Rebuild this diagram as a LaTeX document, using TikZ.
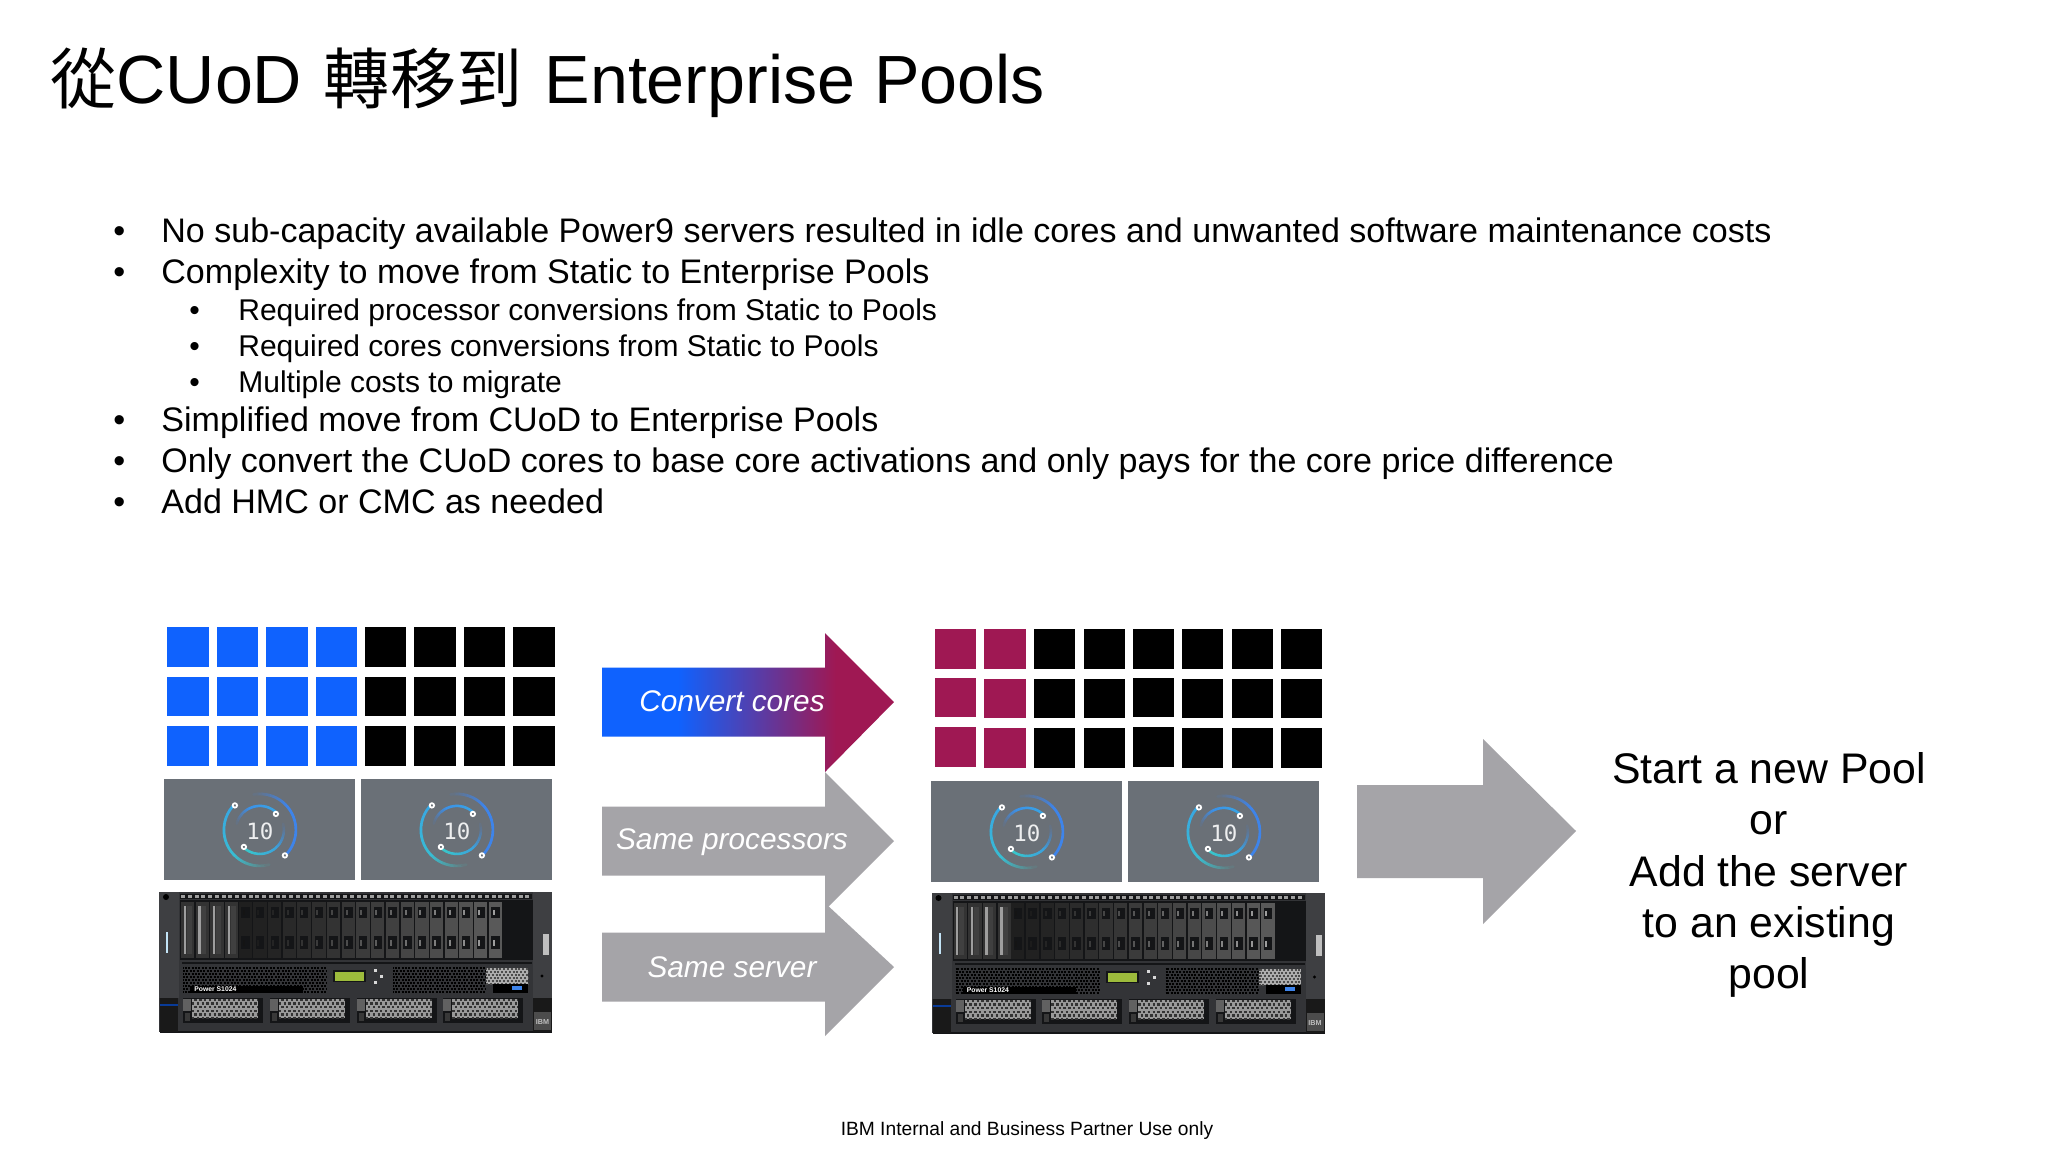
\documentclass[tikz,border=0pt]{standalone}
\usepackage{fontspec}
\setmainfont{Liberation Sans}
\newfontfamily\cjkfont{Noto Sans CJK TC}[Scale=0.97]
\newfontfamily\monof{DejaVu Sans Mono}
\usetikzlibrary{calc}
\definecolor{ibmblue}{HTML}{0F62FE}
\definecolor{magent}{HTML}{9F1853}
\definecolor{arrowgrey}{HTML}{A5A4A8}
\definecolor{panelgrey}{HTML}{6A7077}
\definecolor{ringblue}{HTML}{3E84EA}
\definecolor{ringcyan}{HTML}{38A6E4}
\definecolor{ringteal}{HTML}{38CCC8}
\definecolor{chassis}{HTML}{333437}
\definecolor{earside}{HTML}{3E3F42}
\definecolor{bay}{HTML}{141517}
\definecolor{lcd}{HTML}{9DBB3C}
\pgfdeclarehorizontalshading{convertgrad}{100bp}{color(0bp)=(ibmblue); color(38bp)=(ibmblue); color(65bp)=(magent); color(100bp)=(magent)}
\tikzset{
  x=0.5pt,y=-0.5pt,
  sq/.style={inner sep=0pt,minimum width=20.7pt,minimum height=19.6pt,anchor=north west,fill=#1},
  bul/.style={anchor=base west,inner sep=0pt,font=\fontsize{17.02}{20}\selectfont,text=black},
  subbul/.style={anchor=base west,inner sep=0pt,font=\fontsize{15}{18}\selectfont,text=black},
  arrowlab/.style={inner sep=0pt,text=white,font=\fontsize{14.9}{18}\selectfont\itshape},
  panelbox/.style={anchor=north west,inner sep=0pt,minimum width=95.5pt,minimum height=50.5pt,fill=panelgrey},
}
\newcommand{\coregrid}[4]{%
  \foreach \c [count=\i from 0] in {0,49.3,99,148.6,197.6,247,296.6,346}{%
    \foreach \r in {0,49.5,99}{%
      \pgfmathsetmacro{\xx}{#1+\c}%
      \pgfmathsetmacro{\yy}{#4+\r-((#4==629)*(\r>0)*((\i==0)+(\i==4)))}%
      \ifnum\i<#2\relax
        \node[sq=#3] (q#1x\i y\r) at (\xx,\yy) {};
      \else
        \node[sq=black] (q#1x\i y\r) at (\xx,\yy) {};
      \fi
    }%
  }%
}
% radius, angle start, angle end, colour start, colour end, width
\newcommand{\ringseg}[6]{%
  \foreach \k in {0,...,23}{%
    \pgfmathsetmacro{\aa}{#2+(#3-#2)*\k/24}%
    \pgfmathsetmacro{\ab}{#2+(#3-#2)*(\k+1)/24}%
    \pgfmathtruncatemacro{\mixp}{100*\k/23}%
    \pgfmathtruncatemacro{\fade}{min(100,100*(24-\k)/10)}%
    \colorlet{segtmp}{#5!\mixp!#4}%
    \colorlet{segcol}{segtmp!\fade!panelgrey}%
    \draw[segcol,line width=#6,line cap=round] ({#1*cos(\aa)},{#1*sin(\aa)}) -- ({#1*cos(\ab)},{#1*sin(\ab)});
  }%
}
\newcommand{\tenpanel}[3]{%
  \node[panelbox] (#3) at (#1,#2) {};
  \begin{scope}[shift={(#3.center)}]
    \ringseg{36}{45}{-100}{ringblue}{ringblue}{1.35pt}
    \ringseg{36}{-135}{-285}{ringcyan}{ringteal}{1.35pt}
    \ringseg{24}{-45}{-165}{ringcyan}{ringblue}{1.25pt}
    \ringseg{24}{135}{-15}{ringteal}{ringblue}{1.25pt}
    \foreach \p in {(-25,-24.5),(16,-16),(-16,17),(25,25.5)}
      \draw[white,fill=panelgrey,line width=0.9pt] \p circle (2.2);
    \node[inner sep=0pt,text=white!88!panelgrey,font=\monof\fontsize{11.2}{12}\selectfont] at (0,1) {10};
  \end{scope}
}
% x1,x2,y1,y2,pitch,colour,on,off (pt)
\newcommand{\meshrows}[8]{%
  \pgfmathsetmacro{\halfp}{(#7+#8)/2}%
  \pgfmathtruncatemacro{\rown}{(#4-#3)/#5}%
  \foreach \ri in {0,...,\rown}{%
    \pgfmathsetmacro{\rr}{#3+\ri*#5}%
    \ifodd\ri\relax
      \draw[#6,line width=#7 pt,dash pattern=on #7pt off #8pt] (#1,\rr) -- (#2,\rr);
    \else
      \draw[#6,line width=#7 pt,dash pattern=on #7pt off #8pt,dash phase=\halfp pt] (#1,\rr) -- (#2,\rr);
    \fi
  }%
}
\newcommand{\serverunit}[2]{%
  \begin{scope}[shift={(#1,#2)}]
    \fill[chassis] (159,892) rectangle (552,1032);
    \fill[earside] (159,892) rectangle (179,998);
    \fill[earside] (533,892) rectangle (552,998);
    \fill[bay] (160,1031) rectangle (552,1033);
    % ears
    \fill[black!90!white] (160,998) rectangle (178,1032);
    \fill[black!90!white] (533,998) rectangle (552,1032);
    \fill[ibmblue!60!black] (160,1004) rectangle (178,1006);
    \fill[white!30!black] (534,1012) rectangle (551,1030);
    \node[inner sep=0pt,text=white!75!black,font=\bfseries\fontsize{3.6}{4}\selectfont] at (542.5,1022) {IBM};
    \fill[white!70!ringcyan] (166,932) rectangle (168,953);
    \fill[white!75!black] (543,934) rectangle (549,955);
    \fill[black] (542,976) circle (1.6);
    \fill[black] (166,897) circle (3);
    % top strip
    \fill[bay] (180,894) rectangle (532,899);
    \foreach \k in {0,...,51} \fill[white!62!black] ({181+\k*6.75},895) rectangle ++(4,3);
    % drive bays
    \fill[bay] (180,900) rectangle (533,960);
    \foreach \k in {0,...,3} {
      \fill[black!80!white] ({181+\k*14.7},902) rectangle ++(13.3,56);
      \fill[white!62!black] ({183.5+\k*14.7},906) rectangle ++(2.4,48);
      \fill[white!25!black] ({186.5+\k*14.7},906) rectangle ++(5,48);
    }
    \foreach \k in {0,...,17} {
      \pgfmathsetmacro{\xk}{238.6+\k*14.72}
      \pgfmathtruncatemacro{\sh}{12+\k*1.4}
      \pgfmathtruncatemacro{\li}{8+\k*3.2}
      \fill[white!\sh!black] (\xk,902) rectangle ++(13.3,56);
      \fill[bay] ({\xk+2.5},907) rectangle ++(8.5,11);
      \fill[bay] ({\xk+2.5},936) rectangle ++(8.5,13);
      \fill[white!\li!black] ({\xk+4},910) rectangle ++(2,5);
      \fill[white!\li!black] ({\xk+4},940) rectangle ++(2,6);
    }
    % separator strip
    \fill[bay] (182,962) rectangle (532,964);
    % vents
    \fill[chassis] (182,966) rectangle (530,995);
    \meshrows{183}{327}{968}{992}{3}{black}{1}{0.7}
    \meshrows{393}{486}{968}{992}{3}{black}{1}{0.7}
    \fill[white!68!black] (486,968) rectangle (528,984);
    \meshrows{486}{528}{969}{984}{3}{black!70!white}{1}{0.9}
    % plaque and usb
    \fill[black] (190,986) rectangle (303,993);
    \fill[black] (493,984) rectangle (528,993);
    \fill[ringblue] (512,986) rectangle ++(10,4);
    \node[anchor=west,inner sep=0pt,text=white,font=\bfseries\fontsize{3.4}{4}\selectfont] at (194,989) {Power S1024};
    % lcd and buttons
    \fill[bay] (333,970) rectangle (366,982);
    \fill[lcd] (335,971.5) rectangle (364,981);
    \fill[white!85!black] (374,969) rectangle ++(3,3);
    \fill[white!85!black] (380,975) rectangle ++(3,3);
    \fill[white!85!black] (374,981) rectangle ++(3,3);
    % fans
    \foreach \k in {0,...,3} {
      \pgfmathsetmacro{\fx}{183+\k*86.8}
      \pgfmathsetmacro{\fy}{\fx+80}
      \pgfmathsetmacro{\fm}{\fx+9}
      \pgfmathsetmacro{\fe}{\fx+75}
      \fill[bay] (\fx,998) rectangle (\fy,1023);
      \fill[white!60!black] (\fm,999) rectangle (\fe,1018);
      \meshrows{\fm}{\fe}{1000}{1018}{3.6}{black!80!white}{1.2}{1.2}
      \fill[white!38!black] (\fx,999) rectangle ++(8,12);
      \fill[white!22!black] ({\fx+2},1013) rectangle ++(5,8);
    }
  \end{scope}
}
\newcommand{\slidearrow}[5]{%
  \path[#5] (602,{#3-34.5}) -- (825,{#3-34.5}) -- (825,#2) -- (894,#3) -- (825,#4) -- (825,{#3+34.5}) -- (602,{#3+34.5}) -- cycle;
}
\begin{document}
\begin{tikzpicture}
\useasboundingbox (0,0) rectangle (2048,1152);
\fill[white] (0,0) rectangle (2048,1152);
\node[anchor=base west,inner sep=0pt,font=\fontsize{34.1}{40}\selectfont] (title) at (50,103) {{\cjkfont 從}CUoD\hspace{1.4pt} {\cjkfont 轉移到}\hspace{1.6pt} Enterprise Pools};
\foreach \n/\y/\t in {
 a/242.3/No sub-capacity available Power9 servers resulted in idle cores and unwanted software maintenance costs,
 b/283.3/Complexity to move from Static to Enterprise Pools,
 c/431.5/Simplified move from CUoD to Enterprise Pools,
 d/472.5/Only convert the CUoD cores to base core activations and only pays for the core price difference,
 e/513.5/Add HMC or CMC as needed}{
  \node[bul] (bd\n) at (113,\y) {•};
  \node[bul] (bt\n) at (161,\y) {\t};
}
\foreach \n/\y/\t in {
 a/320.3/Required processor conversions from Static to Pools,
 b/356.3/Required cores conversions from Static to Pools,
 c/392.3/Multiple costs to migrate}{
  \node[subbul] (sd\n) at (189,\y) {•};
  \node[subbul] (st\n) at (238,\y) {\t};
}
\coregrid{167}{4}{ibmblue}{627}
\coregrid{934.5}{2}{magent}{629}
\tenpanel{164}{779}{pa}
\tenpanel{361}{779}{pb}
\tenpanel{931}{781}{pc}
\tenpanel{1128}{781}{pd}
\serverunit{0}{0}
\serverunit{772.5}{1}
\slidearrow{ac}{633}{702}{772}{shading=convertgrad,shading angle=0}
\slidearrow{ap}{772}{841}{910}{fill=arrowgrey}
\slidearrow{as}{903}{967}{1036}{fill=arrowgrey}
\node[arrowlab] (lc) at (732,701) {Convert cores};
\node[arrowlab] (lp) at (732,842) {Same processors};
\node[arrowlab] (ls) at (732,967) {Same server};
\fill[arrowgrey] (1357,785) -- (1483,785) -- (1483,739) -- (1576,831) -- (1483,924) -- (1483,878) -- (1357,878) -- cycle;
\node[inner sep=0pt,align=center,font=\fontsize{21.4}{25.7}\selectfont] (res) at (1769,875) {Start a new Pool\\or\\Add the server\\to an existing\\pool};
\node[inner sep=0pt,font=\fontsize{9.6}{12}\selectfont] (foot) at (1027,1131) {IBM Internal and Business Partner Use only};
\end{tikzpicture}
\end{document}
